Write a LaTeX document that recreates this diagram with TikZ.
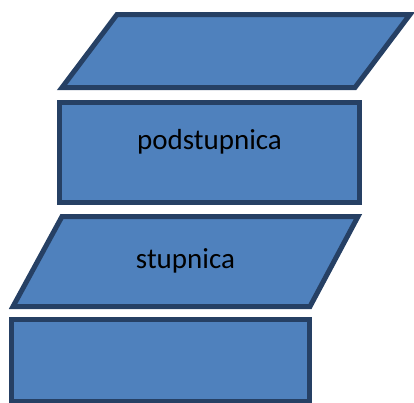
\documentclass[tikz,border=0pt]{standalone}
\usepackage{fontspec}
\setmainfont{Carlito}
\definecolor{fillblue}{RGB}{79,129,189}
\definecolor{edgeblue}{RGB}{38,64,100}
\begin{document}
\begin{tikzpicture}[x=1pt,y=-1pt,
  shapebox/.style={fill=fillblue,draw=edgeblue,line width=5pt,line join=miter},
  lbl/.style={font=\fontsize{29}{34}\selectfont,text=black,anchor=base,inner sep=0pt}]
\useasboundingbox (0,0) rectangle (414,402);
\clip (0,0) rectangle (414,402);
\draw[shapebox] (117,14.5) -- (410,14.5) -- (355,87.5) -- (62,87.5) -- cycle;
\draw[shapebox] (59.5,102.5) rectangle (359.5,202.5);
\draw[shapebox] (62,216.5) -- (358,216.5) -- (310,306.5) -- (13,306.5) -- cycle;
\draw[shapebox] (11.5,319.5) rectangle (309.5,401.5);
\node[lbl] (pod) at (209.5,149) {podstupnica};
\node[lbl] (stu) at (185.5,268) {stupnica};
\end{tikzpicture}
\end{document}
